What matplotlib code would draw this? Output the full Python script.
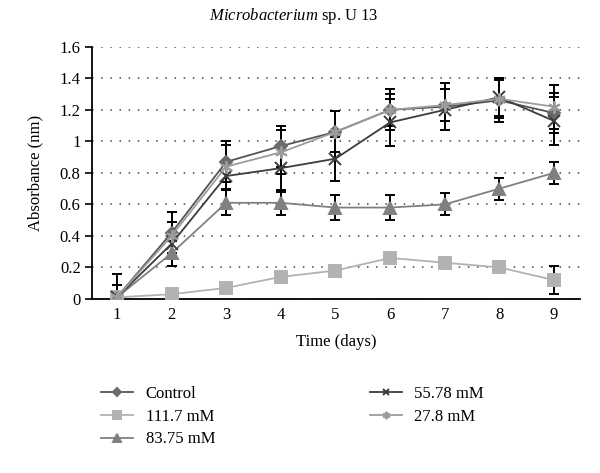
#!/usr/bin/env python3
"""
Absorbance over time for Microbacterium sp. U 13 at several concentrations.
"""

import matplotlib
matplotlib.use("Agg")
import matplotlib.pyplot as plt

### Data ###
days = [1, 2, 3, 4, 5, 6, 7, 8, 9]

control = [0.01, 0.42, 0.87, 0.97, 1.06, 1.20, 1.22, 1.26, 1.18]
c111 = [0.01, 0.03, 0.07, 0.14, 0.18, 0.26, 0.23, 0.20, 0.12]
c83 = [0.01, 0.29, 0.61, 0.61, 0.58, 0.58, 0.60, 0.70, 0.80]
c55 = [0.01, 0.35, 0.78, 0.83, 0.89, 1.12, 1.20, 1.28, 1.13]
c27 = [0.01, 0.40, 0.84, 0.93, 1.06, 1.20, 1.23, 1.27, 1.22]

err_control = [0.15, 0.13, 0.13, 0.13, 0.13, 0.13, 0.15, 0.14, 0.13]
err_c111 = [0.0, 0.0, 0.0, 0.0, 0.03, 0.0, 0.03, 0.0, 0.09]
err_c83 = [0.0, 0.08, 0.08, 0.08, 0.08, 0.08, 0.07, 0.07, 0.07]
err_c55 = [0.08, 0.14, 0.09, 0.15, 0.14, 0.15, 0.13, 0.12, 0.15]
err_c27 = [0.0, 0.0, 0.14, 0.14, 0.0, 0.10, 0.10, 0.12, 0.14]

labels = ["Control", "111.7 mM", "83.75 mM", "55.78 mM", "27.8 mM"]
#### End Data ####

plt.rcParams["font.family"] = ["Liberation Serif", "DejaVu Serif"]
plt.rcParams["mathtext.fontset"] = "custom"
plt.rcParams["mathtext.it"] = "Liberation Serif:italic"
plt.rcParams["mathtext.rm"] = "Liberation Serif"

fig = plt.figure(figsize=(6, 4.73), dpi=100)
ax = fig.add_axes([0.153, 0.368, 0.814, 0.533])

series = [
    (control, err_control, "D", "#6a6a6a", "#555555", 6.5),
    (c111, err_c111, "s", "#b2b2b2", "#b2b2b2", 9),
    (c83, err_c83, "^", "#808080", "#808080", 8.5),
    (c55, err_c55, "x", "#3c3c3c", "#3c3c3c", 8),
    (c27, err_c27, (6, 2, 0), "#9c9c9c", "#9c9c9c", 9),
]

handles = []
for (vals, errs, mk, mcol, lcol, ms), lab in zip(series, labels):
    ax.errorbar(days, vals, yerr=errs, fmt="none", ecolor="black",
                elinewidth=1.4, capsize=3.5, capthick=1.4, zorder=2)
    h, = ax.plot(days, vals, color=lcol, lw=1.3, marker=mk, markersize=ms,
                 markerfacecolor=mcol, markeredgecolor=mcol,
                 markeredgewidth=1.4, label=lab, zorder=3)
    handles.append(h)

ax.set_xlim(0.54, 9.48)
ax.set_ylim(0, 1.6)
ax.set_xticks(days)
ax.set_yticks([0, 0.2, 0.4, 0.6, 0.8, 1.0, 1.2, 1.4, 1.6])
ax.set_yticklabels(["0", "0.2", "0.4", "0.6", "0.8", "1", "1.2", "1.4", "1.6"])
ax.tick_params(axis="x", length=0, labelsize=12, pad=6)
ax.tick_params(axis="y", length=5, width=1.2, labelsize=12, pad=3)
ax.yaxis.grid(True, linestyle=(0, (1, 5)), color="#444444", linewidth=1.1)
ax.set_axisbelow(True)
for s in ["top", "right"]:
    ax.spines[s].set_visible(False)
ax.spines["left"].set_linewidth(1.3)
ax.spines["bottom"].set_linewidth(1.3)

ax.set_ylabel("Absorbance (nm)", fontsize=12, labelpad=12)
ax.set_xlabel("Time (days)", fontsize=12, labelpad=8)
fig.text(0.49, 0.966, r"$\it{Microbacterium}$ sp. U 13", fontsize=12,
         ha="center", va="center")

leg = fig.legend(handles=handles, loc="upper left", ncol=2,
                 bbox_to_anchor=(0.158, 0.198), bbox_transform=fig.transFigure,
                 frameon=False, fontsize=12, handlelength=1.9,
                 handletextpad=0.75, labelspacing=0.4, columnspacing=9.3,
                 markerscale=0.6, borderaxespad=0)

fig.savefig("out.png", dpi=100)
